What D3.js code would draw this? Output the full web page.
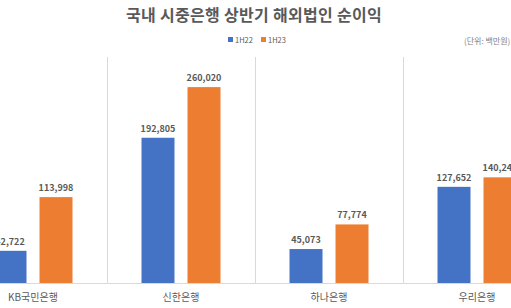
<!DOCTYPE html>
<html><head><meta charset="utf-8">
<script src="https://cdn.jsdelivr.net/npm/d3@7"></script>
<style>body{margin:0;background:#fff;overflow:hidden}svg{display:block}</style>
</head><body><svg id="c" width="511" height="308"></svg>
<script>
const categories = ["KB국민은행", "신한은행", "하나은행", "우리은행"];
const seriesNames = ["1H22", "1H23"];
const values1H22 = [42722, 192805, 45073, 127652];
const values1H23 = [113998, 260020, 77774, 140248];
const colors = ["#4472C4", "#ED7D31"];

const W = 511, H = 308;
const svg = d3.select("#c");
const font = "'Noto Sans CJK KR','Noto Sans',sans-serif";

const x = d3.scaleBand().domain(categories).range([-41, 551]).padding(0);
const xs = d3.scaleBand().domain(seriesNames).range([0, x.bandwidth()]).paddingInner(0.283).paddingOuter(0.75);
const y = d3.scaleLinear().domain([0, 300000]).range([283, 57]);

// separators
svg.append("g").selectAll("line").data(categories.slice(1)).join("line")
  .attr("x1", d => Math.round(x(d)) + 0.5).attr("x2", d => Math.round(x(d)) + 0.5)
  .attr("y1", y(300000)).attr("y2", y(0))
  .attr("stroke", "#d9d9d9").attr("stroke-width", 1);
svg.append("line").attr("x1", 0).attr("x2", W).attr("y1", y(0) + 0.5).attr("y2", y(0) + 0.5)
  .attr("stroke", "#d9d9d9");

const data = [];
categories.forEach((c, i) => {
  data.push({c, s: "1H22", v: values1H22[i], col: colors[0]});
  data.push({c, s: "1H23", v: values1H23[i], col: colors[1]});
});

svg.append("g").selectAll("rect").data(data).join("rect")
  .attr("x", d => x(d.c) + xs(d.s)).attr("width", xs.bandwidth())
  .attr("y", d => y(d.v)).attr("height", d => y(0) - y(d.v))
  .attr("fill", d => d.col);

svg.append("g").selectAll("text").data(data).join("text")
  .attr("x", d => x(d.c) + xs(d.s) + xs.bandwidth() / 2)
  .attr("y", d => y(d.v) - 6)
  .attr("text-anchor", "middle").attr("font-family", font).attr("font-size", 9).attr("font-weight", "bold")
  .attr("fill", "#595959").text(d => d3.format(",")(d.v));

// category labels
svg.append("g").selectAll("text").data(categories).join("text")
  .attr("x", d => x(d) + x.bandwidth() / 2).attr("y", 301)
  .attr("text-anchor", "middle").attr("font-family", font).attr("font-size", 10)
  .attr("fill", "#595959").text(d => d);

// title
svg.append("text").attr("x", 254).attr("y", 21).attr("text-anchor", "middle")
  .attr("font-family", font).attr("font-size", 16).attr("font-weight", "bold")
  .attr("letter-spacing", 0.3)
  .attr("fill", "#595959").text("국내 시중은행 상반기 해외법인 순이익");

// legend
const lg = svg.append("g");
const lx = [228, 261];
seriesNames.forEach((s, i) => {
  lg.append("rect").attr("x", lx[i]).attr("y", 37).attr("width", 5).attr("height", 5).attr("fill", colors[i]);
  lg.append("text").attr("x", lx[i] + 7).attr("y", 42.5).attr("font-family", font).attr("font-size", 7.5)
    .attr("fill", "#595959").text(s);
});

svg.append("text").attr("x", 464).attr("y", 44).attr("font-family", font).attr("font-size", 8)
  .attr("fill", "#7f7f7f").text("(단위: 백만원)");
</script></body></html>
